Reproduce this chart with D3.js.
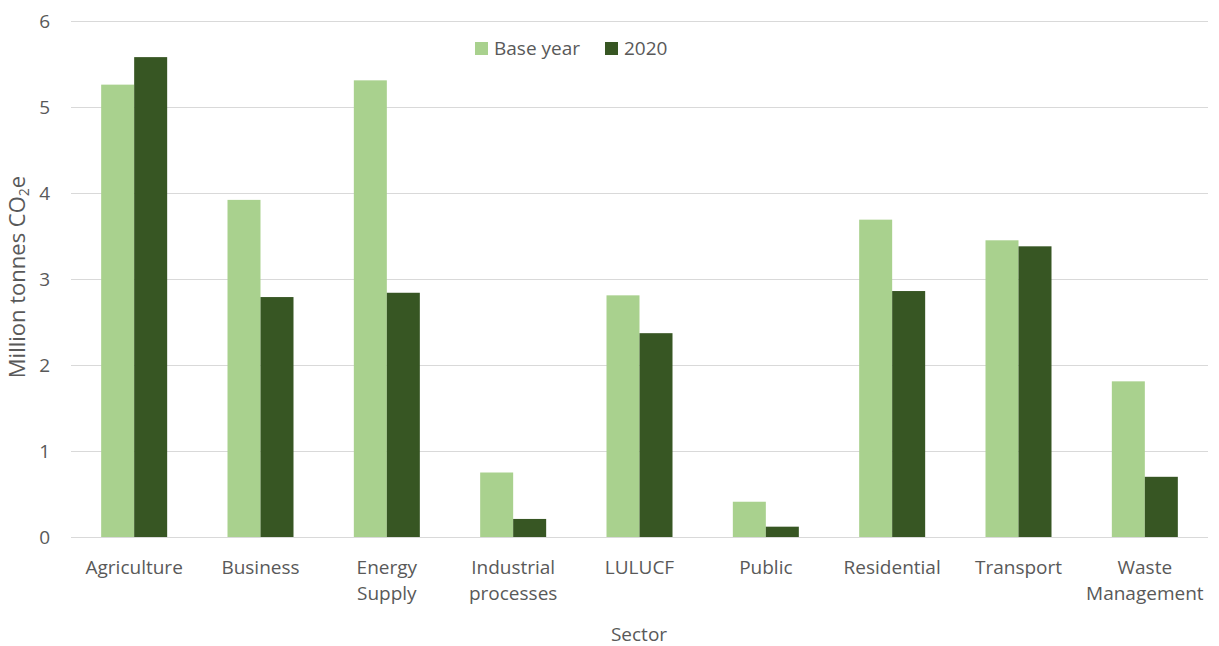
<!DOCTYPE html>
<html>
<head>
<meta charset="utf-8">
<script src="https://cdn.jsdelivr.net/npm/d3@7"></script>
<style>
  html, body { margin: 0; padding: 0; background: #fff; }
  svg text { font-family: "Open Sans", "Noto Sans", sans-serif; fill: #595959; }
</style>
</head>
<body>
<svg id="chart" width="1219" height="646"></svg>
<script>
const categories = [["Agriculture"], ["Business"], ["Energy", "Supply"], ["Industrial", "processes"], ["LULUCF"], ["Public"], ["Residential"], ["Transport"], ["Waste", "Management"]];
const seriesNames = ["Base year", "2020"];
const baseYear = [5.26, 3.92, 5.31, 0.75, 2.81, 0.41, 3.69, 3.45, 1.81];
const y2020 = [5.58, 2.79, 2.84, 0.21, 2.37, 0.12, 2.86, 3.38, 0.70];
const yTicks = [0, 1, 2, 3, 4, 5, 6];
const colors = ["#a9d18e", "#375623"];

const svg = d3.select("#chart");
const FS = "19px";
const plotBottom = 537, plotTop = 21;
const catKeys = categories.map(c => c.join(" "));

const x0 = d3.scaleBand().domain(catKeys).range([71, 1208]).padding(0);
const x1 = d3.scaleBand().domain(seriesNames).range([x0.bandwidth() / 2 - 33, x0.bandwidth() / 2 + 33]).padding(0);
const y = d3.scaleLinear().domain([0, 6]).range([plotBottom, plotTop]);

// gridlines
svg.append("g").selectAll("line").data(yTicks).join("line")
  .attr("x1", 71).attr("x2", 1208)
  .attr("y1", d => Math.round(y(d)) + 0.5).attr("y2", d => Math.round(y(d)) + 0.5)
  .attr("stroke", "#d9d9d9").attr("stroke-width", 1);

// y axis labels
const yAxis = d3.axisLeft(y).tickValues(yTicks).tickSize(0).tickPadding(0).tickFormat(d3.format("d"));
const gy = svg.append("g").attr("transform", "translate(50,0)").call(yAxis);
gy.select(".domain").remove();
gy.selectAll("text").attr("font-size", FS).style("font-family", '"Open Sans", "Noto Sans", sans-serif').attr("fill", "#595959");

// bars
const data = catKeys.map((k, i) => ({ key: k, values: [baseYear[i], y2020[i]] }));
const groups = svg.append("g").selectAll("g").data(data).join("g")
  .attr("transform", d => `translate(${x0(d.key)},0)`);
groups.selectAll("rect").data(d => d.values.map((v, j) => ({ s: seriesNames[j], v, j }))).join("rect")
  .attr("x", d => x1(d.s))
  .attr("width", x1.bandwidth())
  .attr("y", d => y(d.v))
  .attr("height", d => y(0) - y(d.v))
  .attr("fill", d => colors[d.j]);

// x axis labels
const xl = svg.append("g").selectAll("text").data(categories).join("text")
  .attr("x", (d, i) => x0(catKeys[i]) + x0.bandwidth() / 2)
  .attr("y", 574)
  .attr("text-anchor", "middle")
  .attr("font-size", FS);
xl.selectAll("tspan").data(d => d).join("tspan")
  .attr("x", function () { return d3.select(this.parentNode).attr("x"); })
  .attr("dy", (d, i) => i === 0 ? 0 : 26)
  .text(d => d);

// axis titles
svg.append("text").attr("x", 639).attr("y", 641).attr("text-anchor", "middle")
  .attr("font-size", FS).text("Sector");
const yt = svg.append("text").attr("transform", "translate(25,277) rotate(-90)")
  .attr("text-anchor", "middle").attr("font-size", "22px");
yt.append("tspan").text("Million tonnes CO");
yt.append("tspan").attr("font-size", "14px").attr("dy", 4).text("2");
yt.append("tspan").attr("dy", -4).text("e");

// legend
const legend = svg.append("g");
const legX = [475, 605];
seriesNames.forEach((s, i) => {
  legend.append("rect").attr("x", legX[i]).attr("y", 42).attr("width", 13).attr("height", 13).attr("fill", colors[i]);
  legend.append("text").attr("x", legX[i] + 19).attr("y", 55).attr("font-size", FS).text(s);
});
</script>
</body>
</html>
